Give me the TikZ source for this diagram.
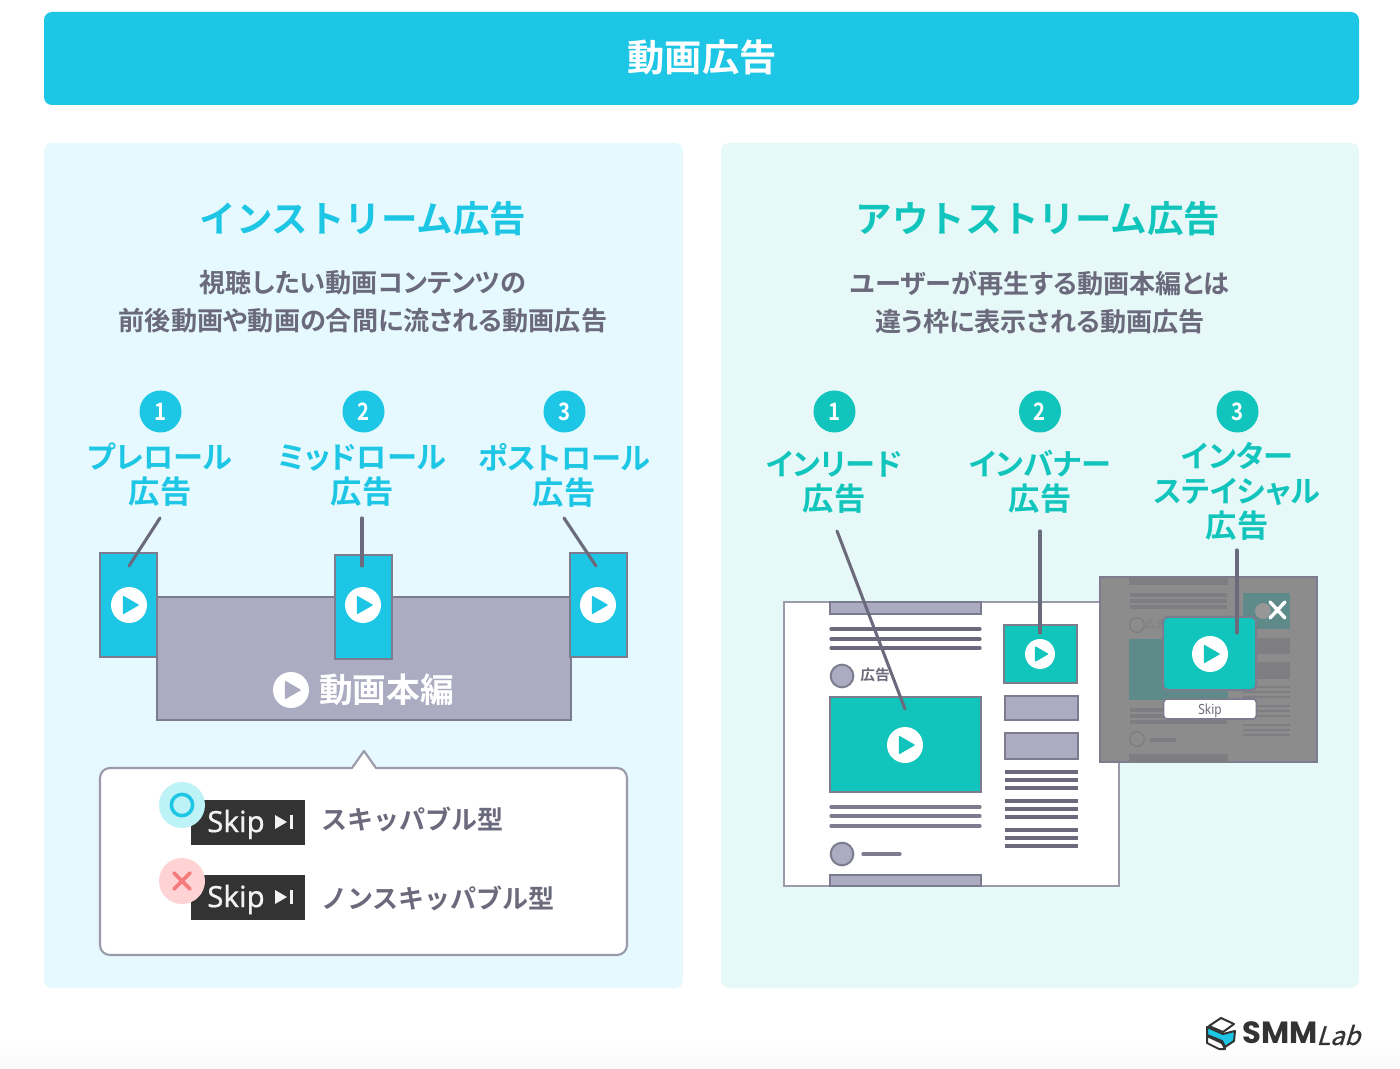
\documentclass[tikz,border=0pt]{standalone}
\usepackage{fontspec}
\setmainfont{Noto Sans CJK JP}[BoldFont={Noto Sans CJK JP Bold}]
\newfontfamily\proportional{Noto Sans CJK JP}[BoldFont={Noto Sans CJK JP Bold},RawFeature=+palt]
\newfontfamily\latinfont{Noto Sans}
\newfontfamily\logofont{Poppins}[BoldFont={Poppins Bold}]
\definecolor{cyanmain}{HTML}{1CC6E4}
\definecolor{tealmain}{HTML}{12C5BC}
\definecolor{inkgrey}{HTML}{6A6A7C}
\definecolor{slatefill}{HTML}{ABACC1}
\definecolor{slateline}{HTML}{7C7C8E}
\definecolor{pageline}{HTML}{9A9AAA}
\definecolor{panelblue}{HTML}{E5F9FE}
\definecolor{panelmint}{HTML}{E6F8F8}
\definecolor{dimveil}{HTML}{8C8C8C}
\definecolor{dimbar}{HTML}{7E7E82}
\definecolor{dimteal}{HTML}{5F8A8A}
\definecolor{okdiscfill}{HTML}{BDF2F6}
\definecolor{ngdiscfill}{HTML}{FFD2D4}
\definecolor{ngmark}{HTML}{F47A7C}
\newcommand{\pxsize}{0.75pt}
\newcommand{\fs}[1]{\fontsize{#1}{#1}\selectfont}
% The word under each ad name is set a little larger than the name
\newcommand{\adword}{\fontsize{23.5}{26.2}\selectfont 広告}
% Round white play button with a triangle in the colour behind it
\newcommand{\playicon}[5]{%
  \pgfmathsetmacro{\pa}{#2-0.30*#4}\pgfmathsetmacro{\pb}{#2+0.50*#4}%
  \pgfmathsetmacro{\pc}{#3-0.46*#4}\pgfmathsetmacro{\pd}{#3+0.46*#4}%
  \node[playdisc,minimum size=2*#4*\pxsize] (#1) at (#2,#3) {};
  \fill[#5,draw=#5,line join=round,line width=1pt] (\pa,\pc) -- (\pb,#3) -- (\pa,\pd) -- cycle;
}
\tikzset{
  x=0.75pt,y=-0.75pt,
  playdisc/.style={circle,fill=white,inner sep=0pt},
  badge/.style={circle,minimum size=31.5pt,inner sep=0pt,text=white,font=\bfseries\fs{18}},
  adlabel/.style={align=center,inner sep=0pt,font=\proportional\bfseries\fontsize{22.6}{26.2}\selectfont},
  headline/.style={inner sep=0pt,font=\bfseries\fs{27.4}},
  blurb/.style={align=center,inner sep=0pt,text=inkgrey,font=\proportional\bfseries\fontsize{19.6}{28.5}\selectfont},
  leader/.style={draw=inkgrey,line width=2.3pt,line cap=round},
  adbox/.style={draw=slateline,line width=1.5pt,fill=cyanmain},
  tealbox/.style={draw=slateline,line width=1.5pt,fill=tealmain},
  greybox/.style={draw=slateline,line width=1.5pt,fill=slatefill},
  textrule/.style={draw=inkgrey,line width=2.4pt,line cap=round},
  dimrule/.style={draw=dimbar,line width=2.6pt},
  skipbtn/.style={fill=black!80,inner sep=0pt},
  skiptext/.style={inner sep=0pt,text=white!95!black,font=\latinfont\fs{22}},
  typelabel/.style={anchor=west,inner sep=0pt,text=inkgrey,font=\bfseries\fs{19.5}},
}
\begin{document}
\begin{tikzpicture}
\useasboundingbox (0,0) rectangle (1400,1069);
\fill[white] (0,0) rectangle (1400,1069);
\shade[top color=white,bottom color=black!2] (0,1040) rectangle (1400,1069);

% Header and the two panels
\fill[cyanmain,rounded corners=6pt] (44,12) rectangle (1359,105);
\node[inner sep=0pt,text=white,font=\bfseries\fs{28}] (title) at (702,57) {動画広告};
\fill[panelblue,rounded corners=6pt] (44,143) rectangle (683,988);
\fill[panelmint,rounded corners=6pt] (721,143) rectangle (1359,988);

% Left panel: headings
\node[headline,text=cyanmain] (headL) at (363,219) {インストリーム広告};
\node[blurb] (blurbL) at (363,302) {視聴したい動画コンテンツの\\前後動画や動画の合間に流される動画広告};

\node[badge,fill=cyanmain] (n1) at (160.5,411.5) {\addfontfeature{FakeStretch=0.85}1};
\node[badge,fill=cyanmain] (n2) at (363.5,411.5) {\addfontfeature{FakeStretch=0.85}2};
\node[badge,fill=cyanmain] (n3) at (564.5,411.5) {\addfontfeature{FakeStretch=0.85}3};
\node[adlabel,text=cyanmain] (pre) at (160,475) {プレロール\\\adword};
\node[adlabel,text=cyanmain] (mid) at (362,475) {ミッドロール\\\adword};
\node[adlabel,text=cyanmain] (post) at (564,475) {ポストロール\\\adword};

% Main video strip with its three ad slots
\draw[greybox] (157,597) rectangle (571,720);
\draw[adbox] (100,553) rectangle (157,657);
\draw[adbox] (335,555) rectangle (392,659);
\draw[adbox] (570,553) rectangle (627,657);
\playicon{playA}{129}{605}{18}{cyanmain}
\playicon{playB}{363}{605}{18}{cyanmain}
\playicon{playC}{598}{605}{18}{cyanmain}
\playicon{playMain}{291}{690}{18}{slatefill}
\node[inner sep=0pt,text=white,font=\bfseries\fs{25.3}] (mainlabel) at (386.5,690) {動画本編};

\coordinate (preTop) at (160,518);
\coordinate (preEnd) at (129,566);
\coordinate (midTop) at (362,518);
\coordinate (midEnd) at (362,566);
\coordinate (postTop) at (564,518);
\coordinate (postEnd) at (596,566);
\draw[leader] (preTop) -- (preEnd);
\draw[leader] (midTop) -- (midEnd);
\draw[leader] (postTop) -- (postEnd);

% Callout with the two skip types
\draw[draw=pageline,line width=1.6pt,fill=white,line join=round]
  (110,768) -- (352,768) -- (364,751) -- (376,768) -- (617,768)
  arc[start angle=90,end angle=0,radius=7.5pt] -- (627,945)
  arc[start angle=0,end angle=-90,radius=7.5pt] -- (110,955)
  arc[start angle=-90,end angle=-180,radius=7.5pt] -- (100,778)
  arc[start angle=180,end angle=90,radius=7.5pt] -- cycle;

\node[skipbtn,minimum width=85.5pt,minimum height=34pt] (skipA) at (248,822.5) {};
\node[skipbtn,minimum width=85.5pt,minimum height=34pt] (skipB) at (248,897.5) {};
\node[skiptext] (skipAtext) at (236,824.5) {\addfontfeature{FakeBold=0.6}Skip};
\node[skiptext] (skipBtext) at (236,899.5) {\addfontfeature{FakeBold=0.6}Skip};
\foreach \yy in {822,897}{
  \fill[white!95!black] (275,\yy-7) -- (287,\yy) -- (275,\yy+7) -- cycle;
  \fill[white!95!black] (290,\yy-7) rectangle (293,\yy+7);
}
\node[circle,fill=okdiscfill,minimum size=34.5pt,inner sep=0pt] (okdisc) at (182,805) {};
\node[circle,draw=cyanmain,line width=2.6pt,minimum size=16pt,inner sep=0pt] (okring) at (182,805) {};
\node[circle,fill=ngdiscfill,minimum size=34.5pt,inner sep=0pt] (ngdisc) at (182,881) {};
\draw[draw=ngmark,line width=2.8pt,line cap=round] (174,873) -- (190,889) (190,873) -- (174,889);
\node[typelabel] (typeA) at (321,819) {スキッパブル型};
\node[typelabel] (typeB) at (321,898) {ノンスキッパブル型};

% Right panel: headings
\node[headline,text=tealmain] (headR) at (1038,219) {アウトストリーム広告};
\node[blurb] (blurbR) at (1040,302) {ユーザーが再生する動画本編とは\\違う枠に表示される動画広告};

\node[badge,fill=tealmain] (m1) at (834.5,411.5) {\addfontfeature{FakeStretch=0.85}1};
\node[badge,fill=tealmain] (m2) at (1040,411.5) {\addfontfeature{FakeStretch=0.85}2};
\node[badge,fill=tealmain] (m3) at (1237.5,411.5) {\addfontfeature{FakeStretch=0.85}3};
\node[adlabel,text=tealmain] (inread) at (834,482) {インリード\\\adword};
\node[adlabel,text=tealmain] (inbanner) at (1040,482) {インバナー\\\adword};
\node[adlabel,text=tealmain] (inter) at (1237,491.5) {インター\\ステイシャル\\\adword};

% Web page mock-up
\draw[draw=pageline,line width=1.9pt,fill=white] (784,602) rectangle (1119,886);
\draw[greybox] (830,602) rectangle (981,614);
\foreach \yy in {629,639,648}{\draw[textrule] (831,\yy) -- (980,\yy);}
\node[circle,draw=slateline,line width=1.5pt,fill=slatefill,minimum size=17pt,inner sep=0pt] (avatarA) at (842,676) {};
\node[inner sep=0pt,text=inkgrey,font=\bfseries\fs{11}] (miniad) at (875,675) {広告};
\draw[tealbox] (830,697) rectangle (981,792);
\playicon{playFeed}{905}{745}{18}{tealmain}
\foreach \yy in {807,816,826}{\draw[textrule,draw=slateline] (831,\yy) -- (980,\yy);}
\node[circle,draw=slateline,line width=1.5pt,fill=slatefill,minimum size=17pt,inner sep=0pt] (avatarB) at (842,854) {};
\draw[textrule,draw=slateline] (863,854) -- (900,854);
\draw[greybox] (830,875) rectangle (981,886);

\draw[tealbox] (1004,625) rectangle (1077,683);
\playicon{playBanner}{1040}{654}{15}{tealmain}
\draw[greybox] (1005,696) rectangle (1078,720);
\draw[greybox] (1005,733) rectangle (1078,759);
\foreach \yy in {772,780,788,801,809,817,830,838,846}{\draw[textrule,line cap=butt] (1005,\yy) -- (1078,\yy);}

\coordinate (inreadTop) at (837,531);
\coordinate (inreadEnd) at (905,709);
\coordinate (inbannerTop) at (1040,531);
\coordinate (inbannerEnd) at (1040,633);
\draw[leader] (inreadTop) -- (inreadEnd);
\draw[leader] (inbannerTop) -- (inbannerEnd);

% Dimmed page behind the interstitial
\draw[draw=slateline,line width=1.2pt,fill=dimveil] (1100,577) rectangle (1317,762);
\fill[dimbar] (1129,577) rectangle (1228,585);
\foreach \yy in {595,601,607,710,716,722}{\draw[dimrule] (1130,\yy) -- (1227,\yy);}
\node[circle,draw=dimbar,line width=1pt,minimum size=11pt,inner sep=0pt] (dimA) at (1137,625) {};
\node[inner sep=0pt,text=dimbar,font=\fs{8}] (dimad) at (1156,624) {広告};
\fill[dimteal] (1129,639) rectangle (1228,700);
\fill[dimteal] (1243,593) rectangle (1290,629);
\node[circle,fill=dimveil!90!white,minimum size=12pt,inner sep=0pt] (dimplay) at (1263,611) {};
\fill[dimbar] (1243,638) rectangle (1290,654);
\fill[dimbar] (1243,662) rectangle (1290,679);
\foreach \yy in {687,692,697,706,711,716,725,730,735}{\draw[dimrule,line width=1.8pt] (1243,\yy) -- (1290,\yy);}
\node[circle,draw=dimbar,line width=1pt,minimum size=11pt,inner sep=0pt] (dimB) at (1137,739) {};
\draw[dimrule] (1150,740) -- (1176,740);
\fill[dimbar] (1129,754) rectangle (1228,762);
\draw[white,line width=2.6pt,line cap=round] (1270,602) -- (1285,618) (1285,602) -- (1270,618);

% Interstitial ad
\draw[tealbox,rounded corners=3.5pt] (1163,617) rectangle (1256,690);
\playicon{playInter}{1210}{654}{18}{tealmain}
\node[draw=slateline,line width=1.2pt,fill=white,rounded corners=2.5pt,minimum width=69.5pt,minimum height=15pt,inner sep=0pt] (skipInter) at (1210,709) {};
\node[inner sep=0pt,text=inkgrey,font=\latinfont\bfseries\fs{10.5}] (skipInterText) at (1210,710.5) {\addfontfeature{FakeStretch=0.85}Skip};
\coordinate (interTop) at (1237,550);
\coordinate (interEnd) at (1237,633);
\draw[leader] (interTop) -- (interEnd);

% Company mark
\begin{scope}[line join=round,draw=black!80,line width=1.5pt]
\draw[fill=white] (1207,1036) -- (1222,1043) -- (1225,1049) -- (1219,1049) -- (1207,1043) -- cycle;
\draw[fill=cyanmain] (1207,1027) -- (1223,1034) -- (1235,1031) -- (1234,1041) -- (1225,1047) -- (1222,1041) -- (1207,1035) -- cycle;
\draw[fill=white] (1221,1018) -- (1234,1024) -- (1223,1032) -- (1209,1026) -- cycle;
\end{scope}
\node[inner sep=0pt,anchor=west,text=black!80,font=\logofont\bfseries\fs{23}] (logoword) at (1242,1033) {SMM};
\node[inner sep=0pt,anchor=west,text=black!80,font=\rmfamily\itshape\fs{19}] (logolab) at (1316,1035) {\addfontfeature{FakeSlant=0.3,FakeBold=0.8}Lab};
\end{tikzpicture}
\end{document}
